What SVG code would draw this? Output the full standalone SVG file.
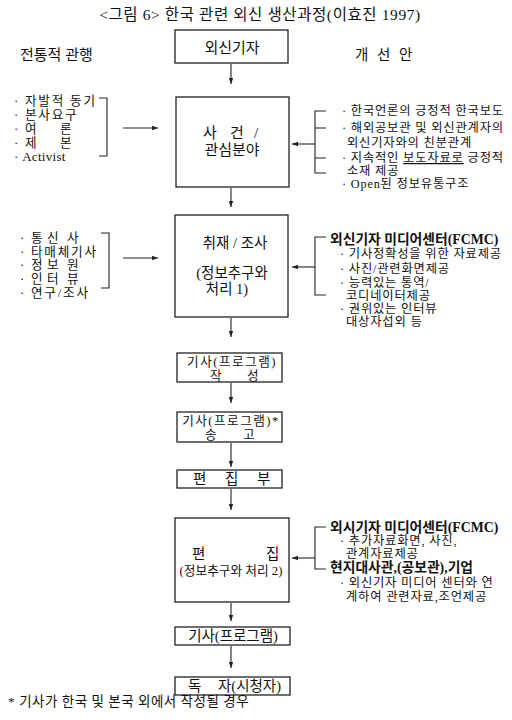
<svg xmlns="http://www.w3.org/2000/svg" width="512" height="720" viewBox="0 0 512 720">
<defs>
<style>
text{font-family:"Liberation Serif","Noto Sans CJK KR",serif;fill:#111;font-size:14.5px}
.lst{font-size:12.6px;letter-spacing:1.8px}
.rt{font-size:12.3px;letter-spacing:0.8px}
.hd{font-size:13.8px;font-weight:bold}
.ft{font-size:13.5px;letter-spacing:0.5px}
.bx2{font-size:12.6px;letter-spacing:1.5px}
.box{fill:#fff;stroke:#222;stroke-width:1.3}
.ln{fill:none;stroke:#222;stroke-width:1.1}
.mid{text-anchor:middle}
</style>
<marker id="ah" viewBox="0 0 6 6" refX="6" refY="3" markerWidth="6" markerHeight="6" orient="auto" markerUnits="userSpaceOnUse">
<path d="M0,0.8 L6,3 L0,5.2 Z" fill="#222"/>
</marker>
</defs>
<rect width="512" height="720" fill="#fff"/>

<g id="title">
<text x="260" y="20" class="mid" style="font-size:15.5px;letter-spacing:0.6px">&lt;그림 6&gt; 한국 관련 외신 생산과정(이효진 1997)</text>
</g>
<g id="header-left"><text x="20" y="60" style="font-size:15px">전통적 관행</text></g>
<g id="header-right"><text y="60" style="font-size:14.5px"><tspan x="355">개</tspan><tspan x="377">선</tspan><tspan x="399">안</tspan></text></g>

<g id="n1">
<rect class="box" x="175" y="30" width="113" height="33"/>
<text x="232" y="53" class="mid" style="font-size:15px">외신기자</text>
</g>

<g id="n2">
<rect class="box" x="176" y="97" width="113" height="90"/>
<text y="138" style="font-size:15px"><tspan x="203">사</tspan><tspan x="230">건</tspan><tspan x="254">/</tspan></text>
<text x="232" y="155" class="mid" style="font-size:15px">관심분야</text>
</g>

<g id="n3">
<rect class="box" x="175" y="215" width="113" height="102"/>
<text x="235" y="248" class="mid">취재 / 조사</text>
<text x="232" y="278" class="mid">(정보추구와</text>
<text x="227" y="294" class="mid">처리 1)</text>
</g>

<g id="n4">
<rect class="box" x="177" y="353" width="105" height="29"/>
<text x="232" y="366" class="mid bx2">기사(프로그램)</text>
<text y="380" class="bx2"><tspan x="210">작</tspan><tspan x="247">성</tspan></text>
</g>

<g id="n5">
<rect class="box" x="177" y="412" width="105" height="30"/>
<text x="231" y="425" class="mid bx2">기사(프로그램)*</text>
<text y="439" class="bx2"><tspan x="205">송</tspan><tspan x="243">고</tspan></text>
</g>

<g id="n6">
<rect class="box" x="177" y="470" width="105" height="18"/>
<text y="484"><tspan x="193">편</tspan><tspan x="225">집</tspan><tspan x="257">부</tspan></text>
</g>

<g id="n7">
<rect class="box" x="175" y="518" width="114" height="84"/>
<text y="559"><tspan x="192">편</tspan><tspan x="266">집</tspan></text>
<text x="231" y="575" class="mid" style="font-size:12.7px">(정보추구와 처리 2)</text>
</g>

<g id="n8">
<rect class="box" x="175" y="627" width="115" height="18"/>
<text x="233" y="641" class="mid">기사(프로그램)</text>
</g>

<g id="n9">
<rect class="box" x="175" y="677" width="115" height="18"/>
<text y="691"><tspan x="188">독</tspan><tspan x="218">자(시청자)</tspan></text>
</g>

<g id="left1">
<text class="lst"><tspan x="14" y="105">· 자발적 동기</tspan><tspan x="14" y="119">· 본사요구</tspan><tspan x="14" y="133">· 여</tspan><tspan x="60" y="133">론</tspan><tspan x="14" y="147">· 제</tspan><tspan x="60" y="147">본</tspan><tspan x="14" y="161" style="letter-spacing:0.3px;font-size:13px">· Activist</tspan></text>
</g>

<g id="left2">
<text class="lst"><tspan x="20" y="242">· 통</tspan><tspan x="47" y="242">신</tspan><tspan x="67" y="242">사</tspan><tspan x="20" y="256">· 타매체기사</tspan><tspan x="20" y="269">· 정</tspan><tspan x="47" y="269">보</tspan><tspan x="67" y="269">원</tspan><tspan x="20" y="283">· 인</tspan><tspan x="47" y="283">터</tspan><tspan x="67" y="283">뷰</tspan><tspan x="20" y="297">· 연구/조사</tspan></text>
</g>

<g id="right1">
<text class="rt"><tspan x="342" y="115">· 한국언론의 긍정적 한국보도</tspan><tspan x="342" y="132">· 해외공보관 및 외신관계자의</tspan><tspan x="347" y="147">외신기자와의 친분관계</tspan><tspan x="342" y="162">· 지속적인 </tspan><tspan text-decoration="underline">보도자료로</tspan><tspan> 긍정적</tspan><tspan x="347" y="175">소재 제공</tspan><tspan x="342" y="188">· Open된 정보유통구조</tspan></text>
</g>

<g id="right2">
<text x="330" y="244" class="hd">외신기자 미디어센터(FCMC)</text>
<text class="rt"><tspan x="340" y="258">· 기사정확성을 위한 자료제공</tspan><tspan x="340" y="273">· 사진/관련화면제공</tspan><tspan x="340" y="287">· 능력있는 통역/</tspan><tspan x="346" y="300">코디네이터제공</tspan><tspan x="340" y="313">· 권위있는 인터뷰</tspan><tspan x="346" y="326">대상자섭외 등</tspan></text>
</g>

<g id="right3">
<text x="330" y="532" class="hd">외시기자 미디어센터(FCMC)</text>
<text class="rt"><tspan x="340" y="545">· 추가자료화면, 사진,</tspan><tspan x="346" y="558">관계자료제공</tspan></text>
<text x="330" y="572" class="hd">현지대사관,(공보관),기업</text>
<text class="rt"><tspan x="340" y="587">· 외신기자 미디어 센터와 연</tspan><tspan x="346" y="601">계하여 관련자료,조언제공</tspan></text>
</g>

<g id="footnote">
<text x="8" y="706" class="ft">* 기사가 한국 및 본국 외에서 작성될 경우</text>
</g>

<g id="connectors">
<line class="ln" x1="231" y1="64" x2="231" y2="84" marker-end="url(#ah)"/>
<line class="ln" x1="231" y1="188" x2="231" y2="207" marker-end="url(#ah)"/>
<line class="ln" x1="231" y1="318" x2="231" y2="337" marker-end="url(#ah)"/>
<line class="ln" x1="231" y1="383" x2="231" y2="403" marker-end="url(#ah)"/>
<line class="ln" x1="231" y1="443" x2="231" y2="467" marker-end="url(#ah)"/>
<line class="ln" x1="231" y1="489" x2="231" y2="510" marker-end="url(#ah)"/>
<line class="ln" x1="231" y1="603" x2="231" y2="621" marker-end="url(#ah)"/>
<line class="ln" x1="231" y1="646" x2="231" y2="668" marker-end="url(#ah)"/>

<path class="ln" d="M99,98 H107 V156 H99"/>
<line class="ln" x1="123" y1="128" x2="158" y2="128" marker-end="url(#ah)"/>
<path class="ln" d="M101,233 H109 V288 H101"/>
<line class="ln" x1="123" y1="258" x2="158" y2="258" marker-end="url(#ah)"/>

<path class="ln" d="M326,111 H315 V173 H326 M315,128 H326 M315,158 H326"/>
<line class="ln" x1="315" y1="144" x2="292" y2="144" marker-end="url(#ah)"/>
<path class="ln" d="M326,237 H315 V295 H326"/>
<line class="ln" x1="315" y1="267" x2="292" y2="267" marker-end="url(#ah)"/>
<path class="ln" d="M326,527 H315 V569 H326"/>
<line class="ln" x1="315" y1="558" x2="292" y2="558" marker-end="url(#ah)"/>
</g>
</svg>
